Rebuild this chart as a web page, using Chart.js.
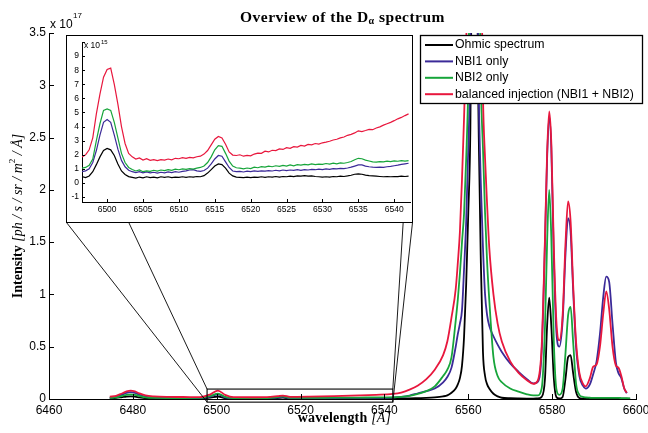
<!DOCTYPE html>
<html>
<head>
<meta charset="utf-8">
<script src="https://cdn.jsdelivr.net/npm/chart.js@4.4.1/dist/chart.umd.min.js"></script>
<style>
  html, body { margin: 0; padding: 0; background: #fff; }
  #wrap { position: relative; width: 648px; height: 433px; }
  #mainChart { position: absolute; left: 0; top: 0; }
  #insetBox { position: absolute; left: 66px; top: 35px; width: 345px; height: 186px; border: 1px solid #000; background: #fff; }
</style>
</head>
<body>
<div id="wrap">
  <canvas id="mainChart" width="648" height="433"></canvas>
  <div id="insetBox"><canvas id="insetChart" width="345" height="186"></canvas></div>
</div>
<script>
// ---- main spectrum (intensity in units of 1e17) ----
const mainWavelength = [
  6474.5, 6476, 6477.5, 6478.5, 6479.5, 6480.5, 6481.5, 6483, 6485, 6488,
  6492, 6496, 6498.5, 6500.3, 6502, 6504, 6508, 6512, 6514.5, 6515.8,
  6517.5, 6522, 6528, 6534, 6538, 6542, 6544, 6546, 6548, 6550,
  6552, 6554, 6555, 6556, 6557, 6557.5, 6558, 6558.5, 6559, 6559.5,
  6560, 6560.5, 6561, 6561.5, 6562, 6562.5, 6563, 6563.5, 6564, 6564.5,
  6565, 6566, 6567, 6568, 6570, 6572, 6574, 6575.5, 6576.5, 6577.5,
  6578.3, 6578.8, 6579.3, 6579.8, 6580.4, 6581, 6581.7, 6582.5, 6583.2, 6583.8,
  6584.4, 6585, 6585.7, 6586.5, 6587.3, 6588, 6589, 6589.8, 6590.6, 6591.4,
  6592.2, 6592.9, 6593.6, 6594.4, 6595.2, 6595.8, 6596.5, 6597.2, 6597.8, 6598.6
];
const ohmicMain = [
  0.005, 0.01, 0.018, 0.023, 0.025, 0.022, 0.016, 0.008, 0.005, 0.004,
  0.004, 0.0045, 0.013, 0.024, 0.008, 0.0035, 0.004, 0.0042, 0.009, 0.013,
  0.0042, 0.0042, 0.0048, 0.005, 0.0045, 0.0048, 0.005, 0.006, 0.008, 0.01,
  0.015, 0.025, 0.035, 0.06, 0.1, 0.14, 0.2, 0.32, 0.6, 1.1,
  1.78, 2.6, 5.0, 9.0, 4.5, 2.5, 1.3, 0.45, 0.22, 0.14,
  0.1, 0.05, 0.025, 0.012, 0.007, 0.005, 0.004, 0.004, 0.005, 0.02,
  0.2, 0.7, 0.97, 0.7, 0.2, 0.02, 0.005, 0.02, 0.2, 0.4,
  0.42, 0.25, 0.07, 0.01, 0.004, 0.003, 0.003, 0.003, 0.003, 0.003,
  0.003, 0.003, 0.003, 0.003, 0.003, 0.003, 0.003, 0.003, 0.003, 0.003
];
const nbi1Main = [
  0.012, 0.02, 0.042, 0.058, 0.065, 0.058, 0.042, 0.022, 0.014, 0.01,
  0.009, 0.008, 0.023, 0.045, 0.016, 0.0075, 0.0072, 0.0095, 0.013, 0.0195,
  0.0085, 0.0085, 0.0092, 0.0105, 0.011, 0.014, 0.02, 0.033, 0.055, 0.075,
  0.1, 0.16, 0.21, 0.3, 0.5, 0.62, 0.72, 0.85, 1.25, 1.7,
  2.4, 3.3, 6.0, 7.5, 4.5, 2.9, 2.05, 1.45, 1.0, 0.8,
  0.7, 0.6, 0.52, 0.45, 0.34, 0.26, 0.19, 0.15, 0.16, 0.45,
  1.5, 2.3, 2.7, 2.4, 1.35, 0.65, 0.5, 0.75, 1.4, 1.73,
  1.6, 1.05, 0.5, 0.22, 0.13, 0.1, 0.14, 0.24, 0.36, 0.62,
  0.98, 1.17, 1.12, 0.72, 0.35, 0.25, 0.2, 0.1, 0.055, null
];
const nbi2Main = [
  0.01, 0.015, 0.03, 0.04, 0.045, 0.04, 0.03, 0.016, 0.01, 0.009,
  0.009, 0.01, 0.03, 0.052, 0.02, 0.0085, 0.009, 0.0098, 0.019, 0.026,
  0.011, 0.011, 0.013, 0.014, 0.015, 0.016, 0.02, 0.03, 0.05, 0.075,
  0.12, 0.22, 0.28, 0.4, 0.75, 0.95, 1.2, 1.5, 1.78, 2.3,
  3.0, 4.5, 7.5, 8.5, 7.0, 4.5, 3.0, 2.4, 1.78, 1.3,
  0.95, 0.4, 0.22, 0.16, 0.1, 0.07, 0.045, 0.035, 0.035, 0.1,
  0.7, 1.5, 2.0, 1.55, 0.55, 0.1, 0.04, 0.1, 0.45, 0.8,
  0.88, 0.55, 0.15, 0.04, 0.02, 0.015, 0.012, 0.01, 0.01, 0.01,
  0.01, 0.01, 0.01, 0.01, 0.01, 0.01, 0.009, 0.008, 0.007, 0.006
];
const balancedMain = [
  0.022, 0.03, 0.055, 0.072, 0.08, 0.072, 0.055, 0.035, 0.025, 0.02,
  0.019, 0.018, 0.045, 0.081, 0.04, 0.017, 0.0165, 0.018, 0.027, 0.033,
  0.02, 0.022, 0.027, 0.034, 0.04, 0.049, 0.062, 0.09, 0.13, 0.19,
  0.28, 0.42, 0.55, 0.78, 1.05, 1.3, 1.6, 2.1, 2.7, 3.4,
  4.3, 5.5, 6.5, 7.0, 6.8, 6.0, 4.5, 2.9, 2.3, 1.85,
  1.45, 1.0, 0.72, 0.55, 0.36, 0.25, 0.18, 0.145, 0.17, 0.5,
  1.55, 2.35, 2.75, 2.45, 1.45, 0.75, 0.56, 0.8, 1.5, 1.89,
  1.7, 1.1, 0.55, 0.25, 0.15, 0.12, 0.2, 0.31, 0.33, 0.5,
  0.82, 1.03, 0.86, 0.5, 0.32, 0.3, 0.22, 0.1, 0.06, null
];

// ---- inset (intensity in units of 1e15) ----
const insetWavelength = [
  6496.5, 6497, 6497.5, 6498, 6498.5, 6499, 6499.5, 6500, 6500.5, 6501,
  6501.5, 6502, 6502.5, 6503, 6503.5, 6504, 6504.5, 6505, 6505.5, 6506,
  6506.5, 6507, 6507.5, 6508, 6508.5, 6509, 6509.5, 6510, 6510.5, 6511,
  6511.5, 6512, 6512.5, 6513, 6513.5, 6514, 6514.5, 6515, 6515.5, 6516,
  6516.5, 6517, 6517.5, 6518, 6518.5, 6519, 6519.5, 6520, 6520.5, 6521,
  6521.5, 6522, 6522.5, 6523, 6523.5, 6524, 6524.5, 6525, 6525.5, 6526,
  6526.5, 6527, 6527.5, 6528, 6528.5, 6529, 6529.5, 6530, 6530.5, 6531,
  6531.5, 6532, 6532.5, 6533, 6533.5, 6534, 6534.5, 6535, 6535.5, 6536,
  6536.5, 6537, 6537.5, 6538, 6538.5, 6539, 6539.5, 6540, 6540.5, 6541,
  6541.5, 6542
];
const ohmicInset = [
  0.45, 0.38, 0.5, 0.8, 1.3, 1.85, 2.3, 2.45, 2.35, 1.95,
  1.35, 0.85, 0.6, 0.45, 0.4, 0.34, 0.42, 0.36, 0.44, 0.38,
  0.42, 0.36, 0.44, 0.4, 0.44, 0.38, 0.42, 0.4, 0.44, 0.4,
  0.44, 0.42, 0.46, 0.44, 0.52, 0.7, 0.95, 1.2, 1.35, 1.3,
  1.05, 0.7, 0.5, 0.42, 0.4, 0.38, 0.42, 0.38, 0.42, 0.4,
  0.44, 0.4, 0.44, 0.42, 0.46, 0.42, 0.46, 0.44, 0.48, 0.45,
  0.5, 0.48, 0.52, 0.48, 0.5, 0.46, 0.44, 0.42, 0.44, 0.42,
  0.46, 0.44, 0.48, 0.46, 0.5, 0.55, 0.62, 0.65, 0.62, 0.56,
  0.52, 0.5, 0.48, 0.46, 0.44, 0.46, 0.44, 0.46, 0.45, 0.48,
  0.46, 0.48
];
const nbi1Inset = [
  0.8, 0.86, 1.0, 1.45, 2.3, 3.4, 4.3, 4.5, 4.3, 3.4,
  2.4, 1.6, 1.15, 0.9, 0.8, 0.74, 0.8, 0.72, 0.78, 0.72,
  0.76, 0.7, 0.76, 0.72, 0.78, 0.74, 0.8, 0.76, 0.82, 0.86,
  0.92, 0.95, 0.86, 0.82, 0.88, 1.05, 1.35, 1.7, 1.95, 1.9,
  1.5, 1.1, 0.85, 0.8, 0.82, 0.78, 0.84, 0.8, 0.86, 0.82,
  0.86, 0.84, 0.88, 0.85, 0.9, 0.86, 0.92, 0.88, 0.92, 0.9,
  0.94, 0.9, 0.95, 0.92, 0.97, 0.94, 0.98, 0.95, 1.0, 0.97,
  1.02, 1.0, 1.04, 1.02, 1.06, 1.12, 1.2, 1.28, 1.28, 1.2,
  1.15, 1.12, 1.1, 1.12, 1.1, 1.15, 1.18, 1.22, 1.26, 1.32,
  1.36, 1.4
];
const nbi2Inset = [
  1.05, 1.1, 1.25, 1.7, 3.0, 4.2, 5.15, 5.25, 5.15, 4.3,
  3.2, 2.1, 1.45, 1.1, 0.95, 0.85, 0.92, 0.8, 0.86, 0.82,
  0.9, 0.84, 0.92, 0.88, 0.95, 0.9, 0.98, 0.94, 1.0, 0.96,
  1.02, 0.98, 1.05, 1.1, 1.2, 1.45, 1.85, 2.35, 2.65, 2.6,
  2.1, 1.55, 1.2, 1.08, 1.05, 1.0, 1.06, 1.02, 1.12, 1.08,
  1.16, 1.12, 1.2, 1.15, 1.22, 1.18, 1.25, 1.2, 1.28, 1.22,
  1.3, 1.26, 1.32, 1.28, 1.35, 1.3, 1.34, 1.32, 1.38, 1.34,
  1.4, 1.36, 1.42, 1.4, 1.45, 1.52, 1.65, 1.75, 1.72, 1.62,
  1.56, 1.5, 1.48, 1.52, 1.5, 1.55, 1.52, 1.56, 1.54, 1.58,
  1.55, 1.58
];
const balancedInset = [
  1.85, 2.0, 2.35, 3.2, 4.9, 6.3, 7.5, 8.05, 8.15, 7.0,
  5.6, 4.0, 2.8, 2.1, 1.85, 1.7, 1.78, 1.62, 1.72, 1.6,
  1.66, 1.58, 1.65, 1.62, 1.7, 1.64, 1.75, 1.72, 1.8, 1.74,
  1.82, 1.78, 1.86, 1.9, 2.05, 2.3, 2.7, 3.1, 3.3, 3.2,
  2.75, 2.2, 1.98, 1.95, 2.0, 1.9, 1.96, 1.92, 2.05, 2.12,
  2.1, 2.25, 2.2, 2.32, 2.3, 2.42, 2.38, 2.5, 2.46, 2.58,
  2.55, 2.66, 2.62, 2.74, 2.7, 2.8, 2.76, 2.85, 2.9, 2.96,
  3.05, 3.1, 3.2, 3.26, 3.38, 3.45, 3.55, 3.7, 3.65, 3.72,
  3.8, 3.78, 3.9, 3.98, 4.1, 4.2, 4.3, 4.42, 4.55, 4.65,
  4.78, 4.9
];

const seriesNames = ["Ohmic spectrum", "NBI1 only", "NBI2 only", "balanced injection (NBI1 + NBI2)"];
const seriesColors = ["#000000", "#3b2a98", "#17a53a", "#e8173d"];

// zoomed region marked on the main axes
const zoomBoxWavelength = [6497.7, 6542];
const zoomBoxIntensity = [-0.03, 0.095];

const SERIF = '"Liberation Serif", "Times New Roman", serif';
const SANS = '"Liberation Sans", Arial, Helvetica, sans-serif';
Chart.defaults.font.family = SANS;
Chart.defaults.color = "#000";

function toPoints(xs, ys) {
  return xs.map((x, i) => ({ x, y: ys[i] }));
}

// draws a row of text pieces with different fonts, centred on (x, y)
function drawRuns(ctx, runs, x, y, align = "center", spacing = 0) {
  if ("letterSpacing" in ctx) ctx.letterSpacing = spacing + "px";
  let total = 0;
  runs.forEach((r) => {
    ctx.font = r.font;
    r.w = ctx.measureText(r.text).width;
    total += r.w;
  });
  let cx = align === "center" ? x - total / 2 : x;
  ctx.textBaseline = "middle";
  ctx.textAlign = "left";
  runs.forEach((r) => {
    ctx.font = r.font;
    ctx.fillText(r.text, cx, y + (r.dy || 0));
    cx += r.w;
  });
  if ("letterSpacing" in ctx) ctx.letterSpacing = "0px";
}

const inwardTicks = {
  id: "inwardTicks",
  afterDatasetsDraw(chart, args, opts) {
    const { ctx, chartArea } = chart;
    const len = opts.length || 5;
    ctx.save();
    ctx.strokeStyle = "#000";
    ctx.lineWidth = 1;
    chart.scales.x.ticks.forEach((t) => {
      const px = Math.round(chart.scales.x.getPixelForValue(t.value)) + 0.5;
      ctx.beginPath();
      ctx.moveTo(px, chartArea.bottom);
      ctx.lineTo(px, chartArea.bottom - len);
      ctx.stroke();
    });
    chart.scales.y.ticks.forEach((t) => {
      const py = Math.round(chart.scales.y.getPixelForValue(t.value)) + 0.5;
      ctx.beginPath();
      ctx.moveTo(chartArea.left, py);
      ctx.lineTo(chartArea.left + len, py);
      ctx.stroke();
    });
    ctx.restore();
  },
};

const mainDecor = {
  id: "mainDecor",
  afterDatasetsDraw(chart) {
    const { ctx } = chart;
    const xs = chart.scales.x;
    const ys = chart.scales.y;
    const x0 = xs.getPixelForValue(zoomBoxWavelength[0]);
    const x1 = xs.getPixelForValue(zoomBoxWavelength[1]);
    const yTop = ys.getPixelForValue(zoomBoxIntensity[1]);
    const yBot = ys.getPixelForValue(zoomBoxIntensity[0]);
    ctx.save();
    ctx.strokeStyle = "#000";
    ctx.lineWidth = 1.1;
    ctx.strokeRect(x0, yTop, x1 - x0, yBot - yTop);

    // connector lines towards the inset box
    const box = document.getElementById("insetBox");
    const bl = box.offsetLeft;
    const bw = box.offsetWidth;
    const bb = box.offsetTop + box.offsetHeight - 0.5;
    const anchors = [
      [0, x0, yBot],
      [0.18, x0, yTop],
      [0.973, x1, yTop],
      [1, x1, yBot],
    ];
    ctx.lineWidth = 0.9;
    anchors.forEach(([f, tx, ty]) => {
      ctx.beginPath();
      ctx.moveTo(bl + 0.5 + f * (bw - 1), bb);
      ctx.lineTo(tx, ty);
      ctx.stroke();
    });
    ctx.restore();
  },
  afterDraw(chart) {
    const { ctx, chartArea } = chart;
    ctx.save();
    ctx.fillStyle = "#000";
    // title
    drawRuns(ctx, [
      { text: "Overview of the D", font: "bold 15.5px " + SERIF },
      { text: "α", font: "bold 10px " + SERIF, dy: 3 },
      { text: " spectrum", font: "bold 15.5px " + SERIF },
    ], (chartArea.left + chartArea.right) / 2, 18, "center", 0.5);
    // x axis title
    drawRuns(ctx, [
      { text: "wavelength ", font: "bold 14px " + SERIF },
      { text: "[Å]", font: "italic 14px " + SERIF },
    ], (chartArea.left + chartArea.right) / 2 + 2, 418, "center", 0.2);
    // y axis title
    ctx.save();
    ctx.translate(18, (chartArea.top + chartArea.bottom) / 2);
    ctx.rotate(-Math.PI / 2);
    drawRuns(ctx, [
      { text: "Intensity ", font: "bold 14px " + SERIF },
      { text: "[ph / s / sr / m", font: "italic 14px " + SERIF },
      { text: "2", font: "9px " + SERIF, dy: -5 },
      { text: " / Å]", font: "italic 14px " + SERIF },
    ], 0, 0);
    ctx.restore();
    // exponent
    drawRuns(ctx, [{ text: "x 10", font: "12px " + SANS }], chartArea.left + 1, 25, "left");
    drawRuns(ctx, [{ text: "17", font: "8px " + SANS }], chartArea.left + 24, 16, "left");

    // legend
    const lg = { left: 420, top: 35, width: 222, height: 68, row: 16.4, line: 28 };
    ctx.fillStyle = "#fff";
    ctx.fillRect(lg.left, lg.top, lg.width, lg.height);
    ctx.strokeStyle = "#000";
    ctx.lineWidth = 1.3;
    ctx.strokeRect(lg.left + 0.5, lg.top + 0.5, lg.width, lg.height);
    ctx.font = "12.3px " + SANS;
    ctx.textBaseline = "middle";
    ctx.textAlign = "left";
    chart.data.datasets.forEach((ds, i) => {
      const y = lg.top + 10 + i * lg.row;
      ctx.strokeStyle = ds.borderColor;
      ctx.lineWidth = 2;
      ctx.beginPath();
      ctx.moveTo(lg.left + 5, y);
      ctx.lineTo(lg.left + 5 + lg.line, y);
      ctx.stroke();
      ctx.fillStyle = "#000";
      ctx.fillText(ds.label, lg.left + 35, y);
    });
    ctx.restore();
  },
};

const insetDecor = {
  id: "insetDecor",
  afterDraw(chart) {
    const { ctx, chartArea } = chart;
    ctx.save();
    ctx.fillStyle = "#000";
    drawRuns(ctx, [{ text: "x 10", font: "8.5px " + SANS }], chartArea.left + 2, 10, "left");
    drawRuns(ctx, [{ text: "15", font: "6px " + SANS }], chartArea.left + 19, 6, "left");
    ctx.restore();
  },
};

const mainSeries = [ohmicMain, nbi1Main, nbi2Main, balancedMain];
const insetSeries = [ohmicInset, nbi1Inset, nbi2Inset, balancedInset];

new Chart(document.getElementById("mainChart"), {
  type: "line",
  data: {
    datasets: mainSeries.map((ys, i) => ({
      label: seriesNames[i],
      data: toPoints(mainWavelength, ys),
      borderColor: seriesColors[i],
      borderWidth: 1.8,
      pointRadius: 0,
      cubicInterpolationMode: "monotone",
      order: 3 - i,
    })),
  },
  options: {
    responsive: false,
    animation: false,
    devicePixelRatio: 1,
    layout: { padding: { top: 33, right: 12, left: 0, bottom: 0 } },
    plugins: { legend: { display: false }, tooltip: { enabled: false }, inwardTicks: { length: 5 } },
    scales: {
      x: {
        type: "linear",
        min: 6460,
        max: 6600,
        ticks: { stepSize: 20, padding: 4, maxRotation: 0, font: { size: 12 }, callback: (v) => String(v) },
        grid: { display: false, drawTicks: false },
        border: { display: true, color: "#000", width: 1 },
        afterFit(s) { s.height = 34; s.paddingLeft = 0; s.paddingRight = 0; },
      },
      y: {
        min: 0,
        max: 3.5,
        ticks: { stepSize: 0.5, padding: 3, font: { size: 12 }, callback: (v) => String(v) },
        grid: { display: false, drawTicks: false },
        border: { display: true, color: "#000", width: 1 },
        afterFit(s) { s.width = 49; s.paddingTop = 0; s.paddingBottom = 0; },
      },
    },
  },
  plugins: [inwardTicks, mainDecor],
});

new Chart(document.getElementById("insetChart"), {
  type: "line",
  data: {
    datasets: insetSeries.map((ys, i) => ({
      label: seriesNames[i],
      data: toPoints(insetWavelength, ys),
      borderColor: seriesColors[i],
      borderWidth: 1.2,
      pointRadius: 0,
      tension: 0,
      order: 3 - i,
    })),
  },
  options: {
    responsive: false,
    animation: false,
    devicePixelRatio: 1,
    layout: { padding: { top: 6, right: 2, left: 0, bottom: 0 } },
    plugins: { legend: { display: false }, tooltip: { enabled: false }, inwardTicks: { length: 3 } },
    scales: {
      x: {
        type: "linear",
        min: 6496.5,
        max: 6542.2,
        ticks: { stepSize: 5, includeBounds: false, padding: 3, maxRotation: 0, font: { size: 8.5 }, callback: (v) => String(v) },
        grid: { display: false, drawTicks: false },
        border: { display: true, color: "#000", width: 1 },
        afterFit(s) { s.height = 20; s.paddingLeft = 0; s.paddingRight = 0; },
      },
      y: {
        min: -1.35,
        max: 10,
        ticks: { stepSize: 1, includeBounds: false, padding: 3, font: { size: 8.5 }, callback: (v) => (v > 9.5 ? "" : String(v)) },
        grid: { display: false, drawTicks: false },
        border: { display: true, color: "#000", width: 1 },
        afterFit(s) { s.width = 15; s.paddingTop = 0; s.paddingBottom = 0; },
      },
    },
  },
  plugins: [inwardTicks, insetDecor],
});
</script>
</body>
</html>
